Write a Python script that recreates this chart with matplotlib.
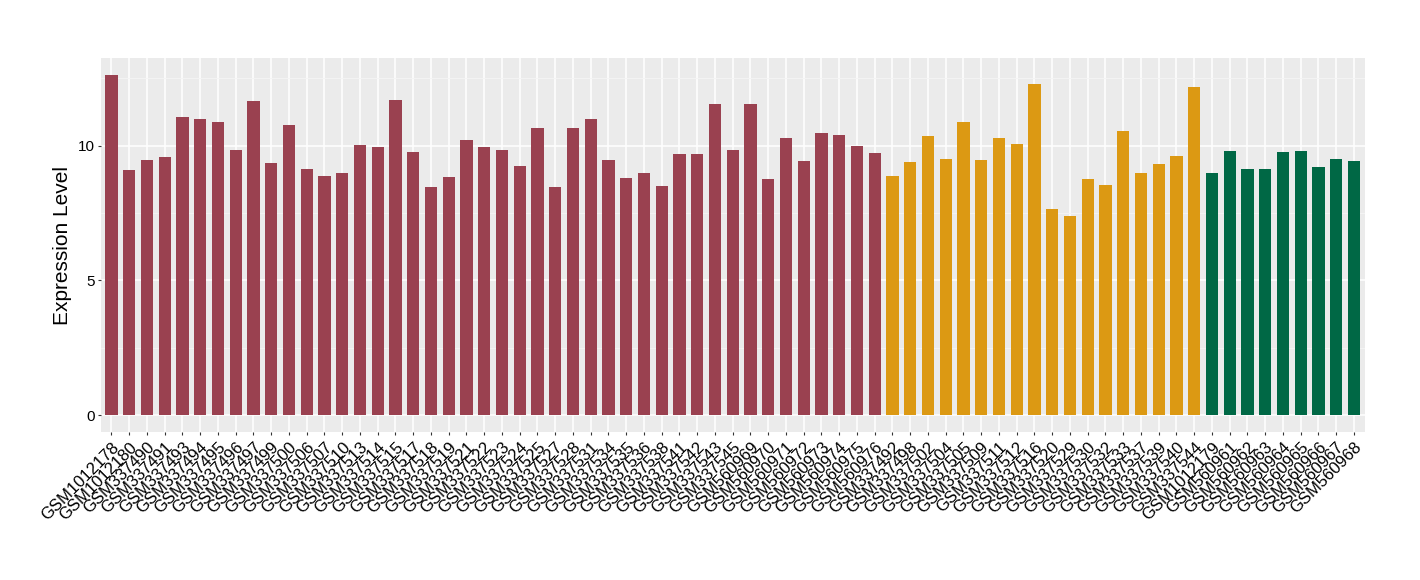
import matplotlib
matplotlib.use('Agg')
import matplotlib.pyplot as plt
import numpy as np

plt.rcParams['font.family'] = ['Liberation Sans', 'DejaVu Sans']

# sample groups
group1_samples = ['GSM1012178', 'GSM1012180', 'GSM337490', 'GSM337491', 'GSM337493', 'GSM337494',
                  'GSM337495', 'GSM337496', 'GSM337497', 'GSM337499', 'GSM337500', 'GSM337506',
                  'GSM337507', 'GSM337510', 'GSM337513', 'GSM337514', 'GSM337515', 'GSM337517',
                  'GSM337518', 'GSM337519', 'GSM337521', 'GSM337522', 'GSM337523', 'GSM337524',
                  'GSM337525', 'GSM337527', 'GSM337528', 'GSM337531', 'GSM337534', 'GSM337535',
                  'GSM337536', 'GSM337538', 'GSM337541', 'GSM337542', 'GSM337543', 'GSM337545',
                  'GSM560969', 'GSM560970', 'GSM560971', 'GSM560972', 'GSM560973', 'GSM560974',
                  'GSM560975', 'GSM560976']
group1_values = [12.62, 9.08, 9.48, 9.59, 11.07, 11.0, 10.89, 9.82, 11.66, 9.37, 10.77, 9.15,
                 8.86, 9.0, 10.04, 9.93, 11.7, 9.78, 8.45, 8.82, 10.22, 9.93, 9.85, 9.23,
                 10.66, 8.45, 10.66, 11.0, 9.48, 8.78, 8.97, 8.49, 9.70, 9.67, 11.55, 9.82,
                 11.55, 8.75, 10.30, 9.41, 10.48, 10.41, 10.0, 9.74]

group2_samples = ['GSM337492', 'GSM337498', 'GSM337502', 'GSM337504', 'GSM337505', 'GSM337509',
                  'GSM337511', 'GSM337512', 'GSM337516', 'GSM337520', 'GSM337529', 'GSM337530',
                  'GSM337532', 'GSM337533', 'GSM337537', 'GSM337539', 'GSM337540', 'GSM337544']
group2_values = [8.87, 9.39, 10.34, 9.50, 10.86, 9.46, 10.30, 10.05, 12.29, 7.66, 7.40, 8.76,
                 8.54, 10.53, 8.98, 9.31, 9.61, 12.18]

group3_samples = ['GSM1012179', 'GSM560961', 'GSM560962', 'GSM560963', 'GSM560964', 'GSM560965',
                  'GSM560966', 'GSM560967', 'GSM560968']
group3_values = [9.0, 9.79, 9.13, 9.13, 9.75, 9.79, 9.20, 9.50, 9.43]

group_colors = ['#9A4150', '#DC9913', '#006845']

labels = group1_samples + group2_samples + group3_samples
values = group1_values + group2_values + group3_values
colors = ([group_colors[0]] * len(group1_samples) + [group_colors[1]] * len(group2_samples)
          + [group_colors[2]] * len(group3_samples))

fig = plt.figure(figsize=(14.2, 5.8), dpi=100)
ax = fig.add_axes([0.071, 0.255, 0.890, 0.645])
ax.set_facecolor('#EBEBEB')

x = np.arange(len(labels))
ax.bar(x, values, width=0.68, color=colors, zorder=3)

ax.set_xlim(-0.6, len(labels) - 0.4)
ax.set_ylim(-0.63, 13.25)
ax.set_yticks([0, 5, 10])
ax.set_yticks([2.5, 7.5, 12.5], minor=True)
ax.grid(True, which='major', color='white', linewidth=1.1, zorder=0)
ax.grid(True, which='minor', axis='y', color='#F5F5F5', linewidth=0.6, zorder=0)
ax.set_axisbelow(True)

ax.set_xticks(x)
ax.set_xticklabels(labels, rotation=45, ha='right', rotation_mode='anchor', fontsize=12)
ax.tick_params(axis='y', labelsize=11, length=2.5, pad=2, color='#333333', which='major')
ax.tick_params(axis='y', which='minor', length=0)
ax.tick_params(axis='x', length=2.5, pad=3, color='#333333')
for s in ax.spines.values():
    s.set_visible(False)

ax.set_ylabel('Expression Level', fontsize=15, labelpad=4)

fig.savefig('out.png', dpi=100)
